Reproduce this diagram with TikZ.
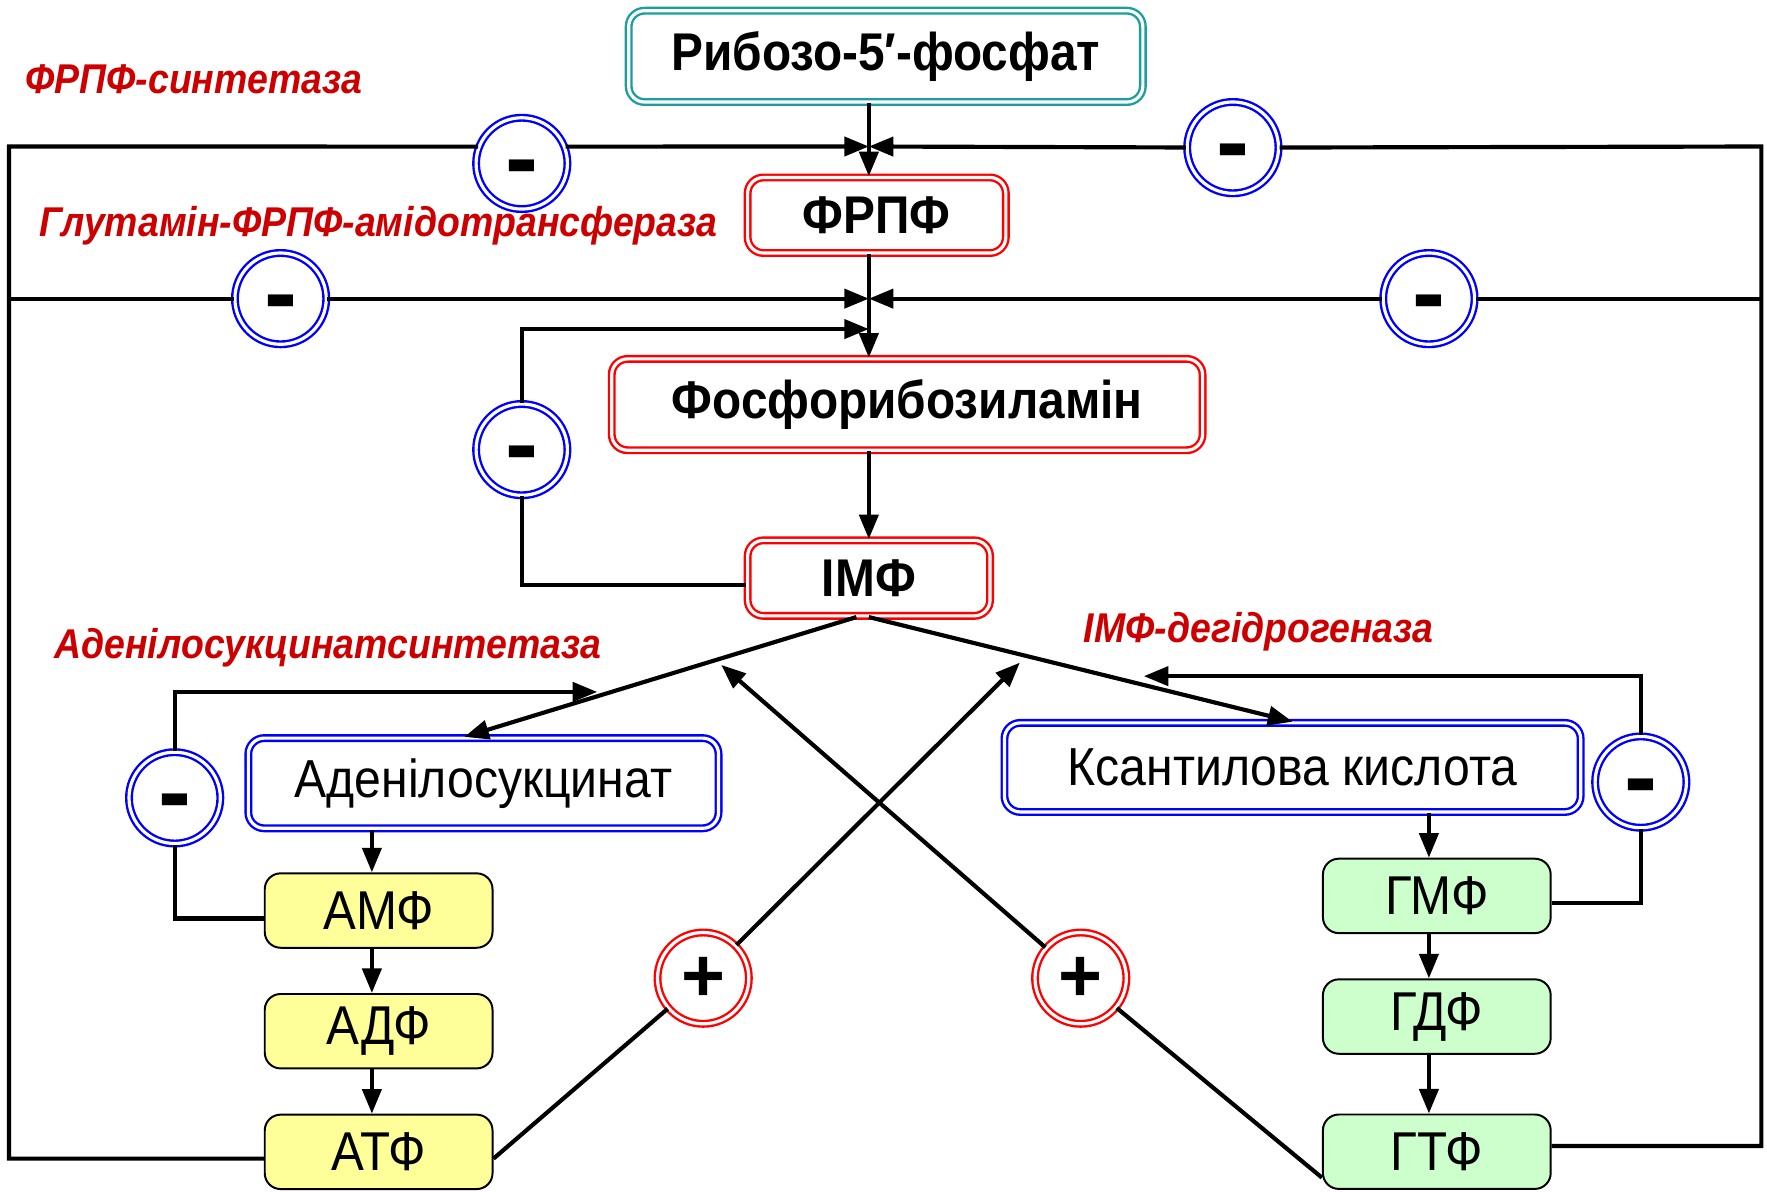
\documentclass[tikz,border=0pt]{standalone}
\usepackage{fontspec}
\setmainfont{Liberation Sans}
\newfontfamily\narrowfont[FakeStretch=0.9]{Liberation Sans}
\usetikzlibrary{arrows.meta,positioning}
\definecolor{ribteal}{RGB}{26,158,158}
\definecolor{enzred}{RGB}{204,0,0}
\definecolor{ampfill}{RGB}{255,255,153}
\definecolor{gmpfill}{RGB}{204,255,204}
\begin{document}
\begin{tikzpicture}[x=0.01cm, y=-0.01cm, node distance = 1.07cm,
    ln/.style = {line width=1.05pt},
    arr/.style = {line width=1.05pt, -{Triangle[length=6.2pt, width=4.8pt]}},
    metab/.style = {draw, double, line width=0.6pt, double distance=0.8pt, rounded corners=4pt, fill=white,
      inner sep=0pt, font=\narrowfont\fontsize{13.4}{15}\selectfont\bfseries},
    plain/.style = {font=\narrowfont\fontsize{13.5}{15}\selectfont},
    nucl/.style = {draw, line width=0.5pt, rounded corners=4pt, minimum width=2.02cm, minimum height=0.66cm,
      inner sep=0pt, font=\narrowfont\fontsize{13.8}{15}\selectfont},
    inhib/.style = {circle, draw=blue, double, line width=0.6pt, double distance=0.8pt, fill=white,
      minimum size=0.81cm, inner sep=0pt, text height=14.2pt, text depth=0pt,
      font=\bfseries\fontsize{25}{25}\selectfont},
    activ/.style = {inhib, draw=red, text height=13pt, text depth=1pt, font=\bfseries\fontsize{19}{19}\selectfont},
    enzlab/.style = {text=enzred, inner sep=0pt, font=\narrowfont\fontsize{10.5}{12}\selectfont\bfseries\itshape}]
  \useasboundingbox (0,0) rectangle (1568,1057);

  % metabolites
  \node[metab, draw=ribteal, minimum width=4.56cm, minimum height=0.81cm] (ribose) at (786,50) {Рибозо-5′-фосфат};
  \node[metab, draw=red, minimum width=2.29cm, minimum height=0.67cm] (frpf) at (778,191) {ФРПФ};
  \node[metab, draw=red, minimum width=5.24cm, minimum height=0.81cm] (pra) at (805,359) {Фосфорибозиламін};
  \node[metab, draw=red, minimum width=2.15cm, minimum height=0.67cm] (imp) at (771,513) {ІМФ};
  \node[metab, plain, draw=blue, minimum width=4.17cm, minimum height=0.8cm] (adsucc) at (429,695) {Аденілосукцинат};
  \node[metab, plain, draw=blue, minimum width=5.11cm, minimum height=0.79cm] (xmp) at (1147,681) {Ксантилова кислота};

  \node[nucl, fill=ampfill] (amp) at (336,808) {АМФ};
  \node[nucl, fill=ampfill, below of = amp] (adp) {АДФ};
  \node[nucl, fill=ampfill, below of = adp] (atp) {АТФ};
  \node[nucl, fill=gmpfill] (gmp) at (1275,795) {ГМФ};
  \node[nucl, fill=gmpfill, below of = gmp] (gdp) {ГДФ};
  \node[nucl, fill=gmpfill] (gtp) at (1275,1022) {ГТФ};

  % regulation circles
  \node[inhib] (c1) at (463,145) {-};
  \node[inhib] (c2) at (1094,131) {-};
  \node[inhib] (c3) at (249,265) {-};
  \node[inhib] (c4) at (1268,265) {-};
  \node[inhib] (c5) at (463,399) {-};
  \node[inhib] (c6) at (155,708) {-};
  \node[inhib] (c7) at (1456,694) {-};
  \node[activ] (p1) at (624,868) {+};
  \node[activ] (p2) at (959,868) {+};

  % enzymes
  \node[enzlab] (l1) at (172,70) {ФРПФ-синтетаза};
  \node[enzlab] (l2) at (336,200) {Глутамін-ФРПФ-амідотрансфераза};
  \node[enzlab] (l3) at (291,575) {Аденілосукцинатсинтетаза};
  \node[enzlab] (l4) at (1117,561) {ІМФ-дегідрогеназа};

  \coordinate (lft) at (8,130);
  \coordinate (rgt) at (1563,130);
  \coordinate (j1) at (771,130);
  \coordinate (j2) at (771,265);
  \coordinate (j3) at (771,292);
  \coordinate (j4) at (530,614);
  \coordinate (j5) at (1015,600);
  \coordinate (j6) at (905,588);
  \coordinate (j7) at (640,590);

  % main pathway
  \draw[arr] (ribose.south -| imp) -- (frpf.north -| imp);
  \draw[arr] (frpf.south -| imp) -- (pra.north -| imp);
  \draw[arr] (pra.south -| imp) -- (imp);
  \draw[arr] ([xshift=-0.11cm]imp.south) -- ([xshift=-0.17cm]adsucc.north);
  \draw[arr] (imp.south) -- (xmp.north);
  \draw[arr] ([xshift=-0.06cm]adsucc.south -| amp) -- ([xshift=-0.06cm]amp.north);
  \draw[arr] ([xshift=-0.06cm]amp.south) -- ([xshift=-0.06cm]adp.north);
  \draw[arr] ([xshift=-0.06cm]adp.south) -- ([xshift=-0.06cm]atp.north);
  \draw[arr] ([xshift=-0.07cm]xmp.south -| gmp) -- ([xshift=-0.07cm]gmp.north);
  \draw[arr] ([xshift=-0.07cm]gmp.south) -- ([xshift=-0.07cm]gdp.north);
  \draw[arr] ([xshift=-0.07cm]gdp.south) -- ([xshift=-0.07cm]gtp.north);

  % feedback
  \draw[ln] ([yshift=-0.06cm]atp.west) -| (lft) -- (c1.159);
  \draw[arr] (c1.21) -- (j1);
  \draw[ln] ([yshift=0.05cm]gtp.east) -| (rgt) -- (c2);
  \draw[arr] (c2) -- (j1);
  \draw[ln] (lft |- c3) -- (c3);
  \draw[arr] (c3) -- (j2);
  \draw[ln] (rgt |- c4) -- (c4);
  \draw[arr] (c4) -- (j2);
  \draw[ln] ([yshift=-0.06cm]imp.west) -| (c5);
  \draw[arr] (c5) |- (j3);
  \draw[ln] ([yshift=-0.07cm]amp.west) -| (c6);
  \draw[arr] (c6) |- (j4);
  \draw[ln] ([yshift=-0.06cm]gmp.east) -| (c7);
  \draw[arr] (c7) |- (j5);
  \draw[ln] ([yshift=-0.06cm]atp.east) -- (p1);
  \draw[arr] (p1) -- (j6);
  \draw[ln] ([yshift=-0.23cm]gtp.west) -- (p2);
  \draw[arr] (p2) -- (j7);
\end{tikzpicture}
\end{document}
